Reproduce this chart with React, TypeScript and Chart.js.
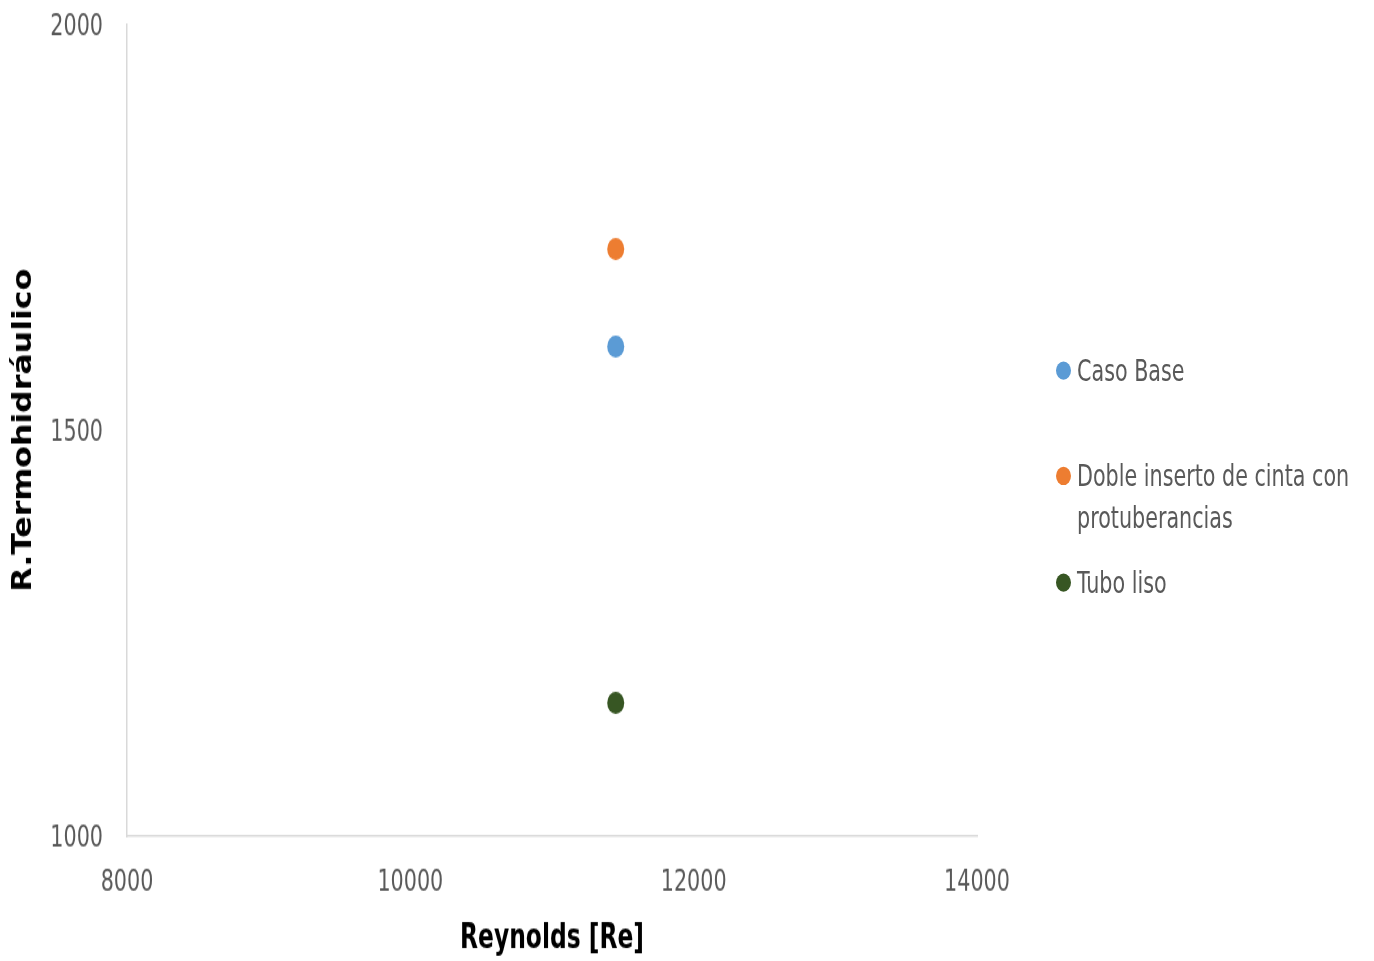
import React, { useEffect, useRef } from "react";
import { Chart, registerables } from "chart.js";

Chart.register(...registerables);

const seriesNames = ["Caso Base", "Doble inserto de cinta con protuberancias", "Tubo liso"];
const legendLines = [["Caso Base"], ["Doble inserto de cinta con", "protuberancias"], ["Tubo liso"]];
const seriesColors = ["#5b9bd5", "#ed7d31", "#375623"];
const reynolds = [11450, 11450, 11450];
const rTermo = [1603, 1723, 1164];
const xTicks = [8000, 10000, 12000, 14000];
const yTicks = [1000, 1500, 2000];

const FONT = "'DejaVu Sans Condensed', 'Liberation Sans Narrow', sans-serif";
const W = 1374;
const H = 739; // drawn height; the picture is stretched vertically to 961
const STRETCH = 961 / H;

export default function App() {
  const ref = useRef<HTMLCanvasElement | null>(null);
  useEffect(() => {
    if (!ref.current) return;
    const chart = new Chart(ref.current, {
      type: "scatter",
      data: {
        datasets: seriesNames.map((name, i) => ({
          label: name,
          data: [{ x: reynolds[i], y: rTermo[i] }],
          pointStyle: "circle",
          pointRadius: 8.5,
          pointBorderWidth: 0,
          backgroundColor: seriesColors[i],
          borderColor: seriesColors[i],
        })),
      },
      options: {
        responsive: false,
        animation: false,
        layout: { padding: { top: 18.5, right: 397, left: 0, bottom: 0 } },
        plugins: { legend: { display: false }, tooltip: { enabled: false } },
        scales: {
          x: {
            type: "linear",
            min: xTicks[0],
            max: xTicks[xTicks.length - 1],
            afterBuildTicks: (s: any) => { s.ticks = xTicks.map((v) => ({ value: v })); },
            afterFit: (s: any) => { s.height = 96; s.paddingLeft = 0; s.paddingRight = 0; },
            grid: { display: false, drawTicks: false },
            border: { display: true, color: "#d9d9d9", width: 1.5 },
            ticks: {
              color: "#595959",
              font: { family: FONT, size: 23 },
              padding: 22.5,
              maxRotation: 0,
              callback: (v: any) => String(v),
            },
            title: {
              display: true,
              text: "Reynolds [Re]",
              color: "#000000",
              font: { family: FONT, size: 26, weight: "bold" },
              padding: { top: 1, bottom: 1 },
            },
          },
          y: {
            type: "linear",
            min: yTicks[0],
            max: yTicks[yTicks.length - 1],
            afterBuildTicks: (s: any) => { s.ticks = yTicks.map((v) => ({ value: v })); },
            afterFit: (s: any) => { s.width = 127; s.paddingTop = 0; s.paddingBottom = 0; },
            grid: { display: false, drawTicks: false },
            border: { display: true, color: "#d9d9d9", width: 1.5 },
            ticks: {
              color: "#595959",
              font: { family: FONT, size: 23 },
              padding: 24,
              labelOffset: 2.5,
              callback: (v: any) => String(v),
            },
            title: {
              display: true,
              text: "R.Termohidráulico",
              color: "#000000",
              font: { family: FONT, size: 27, weight: "bold" },
              padding: { top: 8, bottom: 0 },
            },
          },
        },
      },
    });
    return () => chart.destroy();
  }, []);

  const legendTops = [268.5, 350, 432.3];
  return (
    <div
      style={{
        position: "absolute",
        left: 0,
        top: 0,
        width: W,
        height: H,
        background: "#fff",
        transform: `scaleY(${STRETCH})`,
        transformOrigin: "0 0",
      }}
    >
      <canvas ref={ref} width={W} height={H} style={{ display: "block", width: W, height: H }} />
      {legendLines.map((lines, i) => (
        <div
          key={i}
          style={{
            position: "absolute",
            left: 1055.5,
            top: legendTops[i],
            display: "flex",
            alignItems: "flex-start",
            fontFamily: FONT,
            fontSize: 23,
            lineHeight: "32.3px",
            color: "#595959",
            whiteSpace: "nowrap",
          }}
        >
          <span
            style={{
              display: "inline-block",
              width: 15,
              height: 14,
              borderRadius: "50%",
              background: seriesColors[i],
              marginTop: 9.2,
              marginRight: 6.5,
              flex: "none",
            }}
          />
          <span>
            {lines.map((l, j) => (
              <div key={j}>{l}</div>
            ))}
          </span>
        </div>
      ))}
    </div>
  );
}
